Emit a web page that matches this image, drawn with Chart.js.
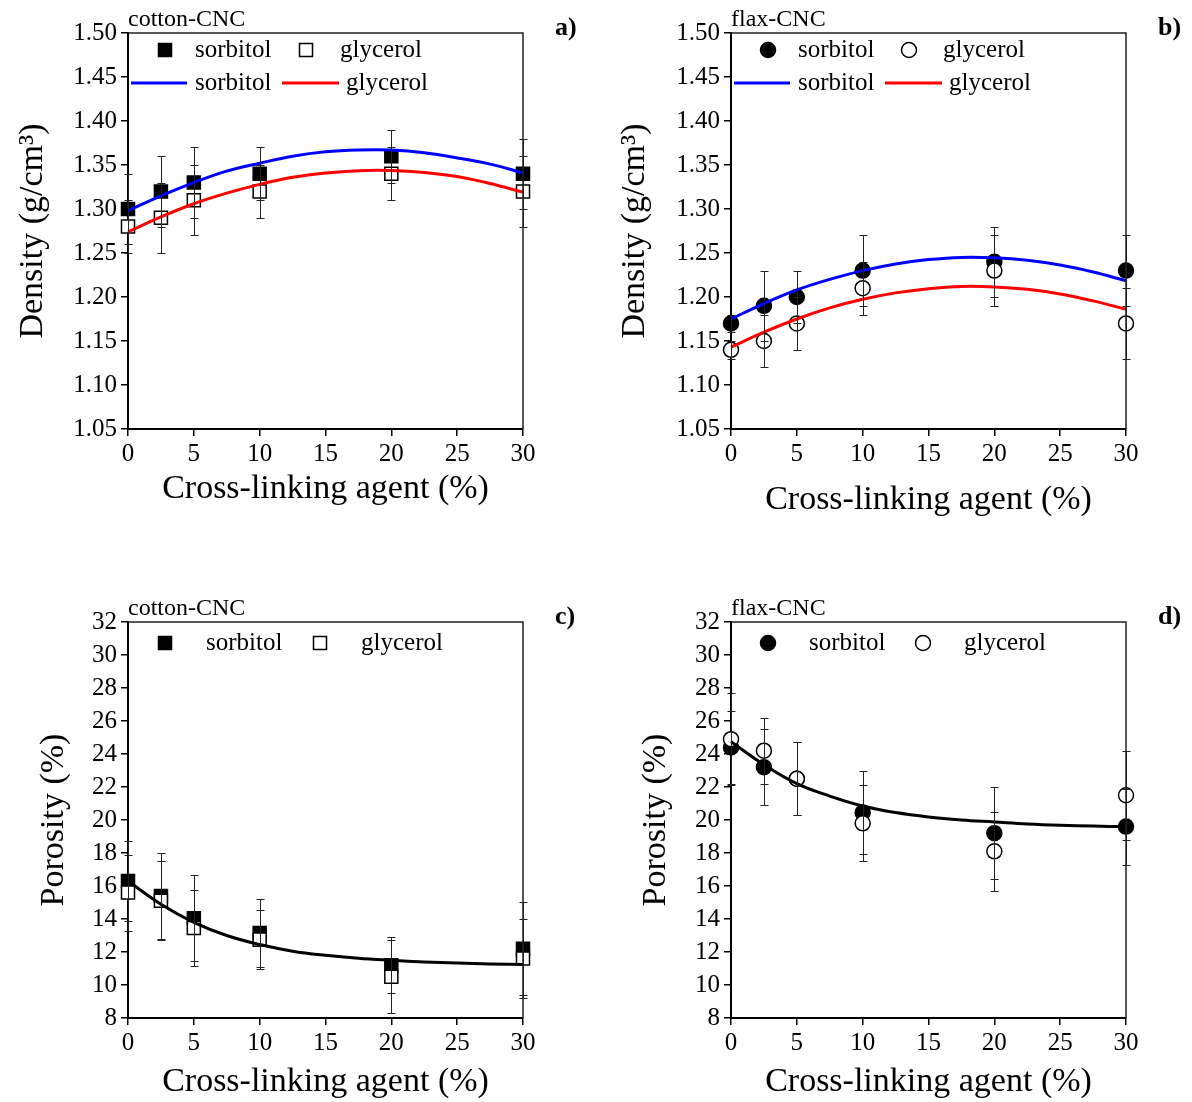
<!DOCTYPE html>
<html>
<head>
<meta charset="utf-8">
<script src="https://cdn.jsdelivr.net/npm/chart.js@4.4.1/dist/chart.umd.min.js"></script>
<style>
  html, body { margin: 0; padding: 0; background: #fff; }
  #wrap { position: relative; width: 1192px; height: 1102px; }
  canvas { position: absolute; }
</style>
</head>
<body>
<div id="wrap">
  <canvas id="pa" width="596" height="551" style="left:0;top:0"></canvas>
  <canvas id="pb" width="596" height="551" style="left:596px;top:0"></canvas>
  <canvas id="pc" width="596" height="551" style="left:0;top:551px"></canvas>
  <canvas id="pd" width="596" height="551" style="left:596px;top:551px"></canvas>
</div>
<script>
// cross-linking agent content (%) for the measured samples
const xCross = [0, 2.5, 5, 10, 20, 30];
const xFit = [0, 2.5, 5, 7.5, 10, 12.5, 15, 17.5, 20, 22.5, 25, 27.5, 30];

const xTicks = [0, 5, 10, 15, 20, 25, 30];
const densityTicks = [1.05, 1.10, 1.15, 1.20, 1.25, 1.30, 1.35, 1.40, 1.45, 1.50];
const porosityTicks = [8, 10, 12, 14, 16, 18, 20, 22, 24, 26, 28, 30, 32];

// a) cotton-CNC density
const cottonDenSorb = [1.30, 1.32, 1.33, 1.34, 1.36, 1.34];
const cottonDenSorbErr = [0.04, 0.04, 0.04, 0.03, 0.03, 0.04];
const cottonDenGly = [1.28, 1.29, 1.31, 1.32, 1.34, 1.32];
const cottonDenGlyErr = [0.03, 0.04, 0.04, 0.03, 0.03, 0.04];
const cottonDenSorbFit = [1.298, 1.315, 1.330, 1.343, 1.352, 1.360, 1.365, 1.367, 1.367, 1.364, 1.358, 1.351, 1.341];
const cottonDenGlyFit = [1.274, 1.291, 1.306, 1.318, 1.328, 1.336, 1.341, 1.3436, 1.3438, 1.3416, 1.337, 1.329, 1.319];

// b) flax-CNC density
const flaxDenSorb = [1.17, 1.19, 1.20, 1.23, 1.24, 1.23];
const flaxDenSorbErr = [0.01, 0.04, 0.03, 0.04, 0.04, 0.04];
const flaxDenGly = [1.14, 1.15, 1.17, 1.21, 1.23, 1.17];
const flaxDenGlyErr = [0.01, 0.03, 0.03, 0.03, 0.04, 0.04];
const flaxDenSorbFit = [1.175, 1.1925, 1.208, 1.220, 1.230, 1.2376, 1.2425, 1.245, 1.2445, 1.2417, 1.2363, 1.2284, 1.2185];
const flaxDenGlyFit = [1.143, 1.160, 1.175, 1.1876, 1.1974, 1.2047, 1.2095, 1.212, 1.2115, 1.2088, 1.2035, 1.1956, 1.186];

// c) cotton-CNC porosity
const cottonPorSorb = [16.3, 15.4, 14.05, 13.15, 11.2, 12.2];
const cottonPorSorbErr = [2.4, 2.6, 2.6, 2.05, 1.7, 2.8];
const cottonPorGly = [15.6, 15.1, 13.45, 12.75, 10.5, 11.6];
const cottonPorGlyErr = [2.3, 2.4, 2.3, 1.8, 2.2, 2.4];
const cottonPorFit = [16.3, 14.9, 13.8, 13.0, 12.45, 12.05, 11.8, 11.62, 11.5, 11.4, 11.33, 11.28, 11.25];

// d) flax-CNC porosity
const flaxPorSorb = [24.4, 23.2, 22.5, 20.45, 19.2, 19.6];
const flaxPorSorbErr = [2.2, 2.3, 2.2, 2.5, 2.8, 2.3];
const flaxPorGly = [24.9, 24.2, 22.5, 19.8, 18.1, 21.5];
const flaxPorGlyErr = [2.8, 2.0, 2.2, 2.3, 2.4, 2.7];
const flaxPorFit = [24.75, 23.35, 22.2, 21.45, 20.85, 20.45, 20.18, 20.0, 19.88, 19.76, 19.68, 19.63, 19.6];

const FONT = "'Liberation Serif', 'Times New Roman', Times, serif";
Chart.defaults.font.family = FONT;
Chart.defaults.color = '#000';

function drawMarker(ctx, shape, filled, x, y) {
  ctx.save();
  ctx.fillStyle = filled ? '#000' : '#fff';
  ctx.strokeStyle = '#000';
  ctx.lineWidth = 1.5;
  ctx.beginPath();
  if (shape === 'rect') ctx.rect(x - 6.5, y - 6.5, 13, 13);
  else ctx.arc(x, y, 7.5, 0, Math.PI * 2);
  ctx.fill();
  ctx.stroke();
  ctx.restore();
}

// draws error bars, the plot box, the sample name, panel letter and the legend
function panelPlugin(p) {
  return {
    id: 'panel',
    afterDatasetsDraw(chart) {
      const ctx = chart.ctx, xs = chart.scales.x, ys = chart.scales.y;
      ctx.save();
      ctx.strokeStyle = '#222';
      ctx.lineWidth = 1;
      p.series.forEach(s => {
        s.y.forEach((v, i) => {
          const e = s.err[i];
          const px = Math.round(xs.getPixelForValue(xCross[i])) + 0.5;
          const y1 = Math.round(ys.getPixelForValue(v + e)) + 0.5;
          const y2 = Math.round(ys.getPixelForValue(v - e)) + 0.5;
          ctx.beginPath();
          ctx.moveTo(px, y1); ctx.lineTo(px, y2);
          ctx.moveTo(px - 4, y1); ctx.lineTo(px + 4, y1);
          ctx.moveTo(px - 4, y2); ctx.lineTo(px + 4, y2);
          ctx.stroke();
        });
      });
      ctx.restore();
    },
    afterDraw(chart) {
      const ctx = chart.ctx, a = chart.chartArea;
      ctx.save();
      // top and right frame lines
      ctx.strokeStyle = '#222';
      ctx.lineWidth = 1.5;
      ctx.beginPath();
      ctx.moveTo(a.left, a.top);
      ctx.lineTo(a.right, a.top);
      ctx.lineTo(a.right, a.bottom);
      ctx.stroke();

      ctx.fillStyle = '#000';
      ctx.textBaseline = 'alphabetic';
      ctx.textAlign = 'left';
      ctx.font = '24px ' + FONT;
      ctx.fillText(p.name, a.left, a.top - 7);
      ctx.font = 'bold 26px ' + FONT;
      ctx.textBaseline = 'middle';
      ctx.fillText(p.letter, a.right + 32, a.top - 5);

      // legend
      ctx.font = '25px ' + FONT;
      p.legend.forEach(it => {
        const y = a.top + p.legendRows[it.row];
        if (it.kind === 'marker') {
          drawMarker(ctx, p.shape, it.filled, a.left + it.x, y);
        } else if (it.kind === 'line') {
          ctx.strokeStyle = it.color;
          ctx.lineWidth = 3;
          ctx.beginPath();
          ctx.moveTo(a.left + it.x, y);
          ctx.lineTo(a.left + it.x2, y);
          ctx.stroke();
        } else {
          ctx.fillStyle = '#000';
          ctx.fillText(it.text, a.left + it.x, y);
        }
      });
      ctx.restore();
    }
  };
}

function makePanel(id, p) {
  const datasets = [];
  p.fits.forEach(f => {
    datasets.push({
      data: xFit.map((x, i) => ({ x: x, y: f.y[i] })),
      showLine: true,
      borderColor: f.color,
      borderWidth: 3,
      pointRadius: 0,
      tension: 0.4,
      clip: false,
      order: 0
    });
  });
  p.series.forEach(s => {
    datasets.push({
      data: xCross.map((x, i) => ({ x: x, y: s.y[i] })),
      pointStyle: p.shape === 'rect' ? 'rect' : 'circle',
      pointRadius: p.shape === 'rect' ? 9.2 : 7.5,
      pointBackgroundColor: s.filled ? '#000' : '#fff',
      pointBorderColor: '#000',
      pointBorderWidth: 1.5,
      clip: false,
      order: s.filled ? 2 : 1
    });
  });

  new Chart(document.getElementById(id), {
    type: 'scatter',
    data: { datasets: datasets },
    options: {
      responsive: false,
      animation: false,
      devicePixelRatio: 1,
      layout: { padding: { left: 0, right: p.padR, top: p.padT, bottom: p.padB } },
      plugins: { legend: { display: false }, tooltip: { enabled: false } },
      scales: {
        x: {
          type: 'linear',
          min: 0,
          max: 30,
          afterBuildTicks: s => { s.ticks = xTicks.map(v => ({ value: v })); },
          afterFit: s => { s.height = p.xH; },
          border: { color: '#000', width: 2 },
          grid: { drawOnChartArea: false, drawTicks: true, tickLength: 7, color: '#000', lineWidth: 1.5 },
          ticks: { font: { size: 25 }, color: '#000', padding: 3, maxRotation: 0, autoSkip: false },
          title: { display: true, text: 'Cross-linking agent (%)', font: { size: 34 }, color: '#000', padding: { top: 0, bottom: 0 } }
        },
        y: {
          type: 'linear',
          min: p.yTicks[0],
          max: p.yTicks[p.yTicks.length - 1],
          afterBuildTicks: s => { s.ticks = p.yTicks.map(v => ({ value: v })); },
          afterFit: s => { s.width = p.yW; },
          border: { color: '#000', width: 2 },
          grid: { drawOnChartArea: false, drawTicks: true, tickLength: 7, color: '#000', lineWidth: 1.5 },
          ticks: { font: { size: 25 }, color: '#000', padding: 4, autoSkip: false, callback: p.fmt },
          title: { display: true, text: p.yTitle, font: { size: 34 }, color: '#000', padding: { top: p.yTitlePad, bottom: 0 } }
        }
      }
    },
    plugins: [panelPlugin(p)]
  });
}

const densLegend = [
  { kind: 'marker', filled: true, x: 37, row: 0 },
  { kind: 'text', text: 'sorbitol', x: 67, row: 0 },
  { kind: 'marker', filled: false, x: 178, row: 0 },
  { kind: 'text', text: 'glycerol', x: 212, row: 0 },
  { kind: 'line', color: '#0000ff', x: 3, x2: 59, row: 1 },
  { kind: 'text', text: 'sorbitol', x: 67, row: 1 },
  { kind: 'line', color: '#ff0000', x: 154, x2: 211, row: 1 },
  { kind: 'text', text: 'glycerol', x: 218, row: 1 }
];
const porLegend = [
  { kind: 'marker', filled: true, x: 37, row: 0 },
  { kind: 'text', text: 'sorbitol', x: 78, row: 0 },
  { kind: 'marker', filled: false, x: 192, row: 0 },
  { kind: 'text', text: 'glycerol', x: 233, row: 0 }
];

makePanel('pa', {
  name: 'cotton-CNC', letter: 'a)', shape: 'rect',
  yTicks: densityTicks, fmt: v => v.toFixed(2), yTitle: 'Density (g/cm³)',
  yW: 128, padR: 73, padT: 33, padB: 42, xH: 80, yTitlePad: 13,
  legend: densLegend, legendRows: [17, 50],
  series: [
    { y: cottonDenSorb, err: cottonDenSorbErr, filled: true },
    { y: cottonDenGly, err: cottonDenGlyErr, filled: false }
  ],
  fits: [
    { y: cottonDenSorbFit, color: '#0000ff' },
    { y: cottonDenGlyFit, color: '#ff0000' }
  ]
});

makePanel('pb', {
  name: 'flax-CNC', letter: 'b)', shape: 'circle',
  yTicks: densityTicks, fmt: v => v.toFixed(2), yTitle: 'Density (g/cm³)',
  yW: 135, padR: 66, padT: 33, padB: 31, xH: 91, yTitlePad: 19,
  legend: densLegend, legendRows: [17, 50],
  series: [
    { y: flaxDenSorb, err: flaxDenSorbErr, filled: true },
    { y: flaxDenGly, err: flaxDenGlyErr, filled: false }
  ],
  fits: [
    { y: flaxDenSorbFit, color: '#0000ff' },
    { y: flaxDenGlyFit, color: '#ff0000' }
  ]
});

makePanel('pc', {
  name: 'cotton-CNC', letter: 'c)', shape: 'rect',
  yTicks: porosityTicks, fmt: v => String(v), yTitle: 'Porosity (%)',
  yW: 128, padR: 73, padT: 71, padB: 0, xH: 84, yTitlePad: 34,
  legend: porLegend, legendRows: [21],
  series: [
    { y: cottonPorSorb, err: cottonPorSorbErr, filled: true },
    { y: cottonPorGly, err: cottonPorGlyErr, filled: false }
  ],
  fits: [{ y: cottonPorFit, color: '#000000' }]
});

makePanel('pd', {
  name: 'flax-CNC', letter: 'd)', shape: 'circle',
  yTicks: porosityTicks, fmt: v => String(v), yTitle: 'Porosity (%)',
  yW: 135, padR: 66, padT: 71, padB: 0, xH: 84, yTitlePad: 40,
  legend: porLegend, legendRows: [21],
  series: [
    { y: flaxPorSorb, err: flaxPorSorbErr, filled: true },
    { y: flaxPorGly, err: flaxPorGlyErr, filled: false }
  ],
  fits: [{ y: flaxPorFit, color: '#000000' }]
});
</script>
</body>
</html>
